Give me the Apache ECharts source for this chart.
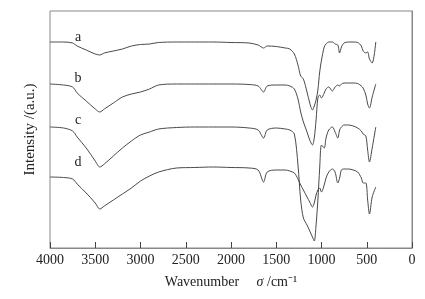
<!DOCTYPE html>
<html>
<head>
<meta charset="utf-8">
<script src="https://cdn.jsdelivr.net/npm/echarts@6/dist/echarts.min.js"></script>
<style>
  html, body { margin: 0; padding: 0; background: #fff; }
  #main { width: 425px; height: 299px; }
</style>
</head>
<body>
<div id="main"></div>
<script>
// wavenumbers (cm-1) shared by all four spectra
var wavenumbers = [4000,3850,3750,3700,3600,3500,3450,3400,3300,3200,
  3100,3000,2900,2800,2600,2400,2200,2000,1800,1700,
  1640,1600,1500,1400,1350,1300,1260,1230,1200,1160,
  1130,1100,1080,1060,1040,1020,1000,970,950,920,
  880,850,820,800,780,750,700,650,600,560,
  540,510,490,470,440,400];

// intensities (a.u., curves stacked with offsets as in the figure)
var curveA = [206,206,205,202,198,194,193,195,197,199,
  202,203.5,204,205.5,206,206,206,205.5,205,203,
  200,202,201.5,200,199,194,183,172,169,156,
  145,138,142,148,158,176,188,201,204,206,
  206,204,203,195,201,205,206,206,205.5,202,
  197,195,196,189,185,206];
var curveB = [164,163,161,155,147,139,136,139,145,151,
  154,156,159,163,164,164,164,164,163.5,162,
  156,162,163,163,162,159,149,136,126,116,
  108,103,110,128,150,153,150,155,159,161,
  157,161,163,162,164,165,165,165,164.5,162,
  160,153,144,140,151,164];
var curveC = [121,120,117,111,100,87,81,84,92,100,
  107,113,116,119,120.5,121,121,121,120,118,
  110,118,120,119,118,114,83,48,30,23,
  17,11,7,23,48,80,103,100,110,118,
  121,116,110,118,121,123,123,122,120,117,
  114,112,98,86,100,121];
var curveD = [71,70.5,69,64,55,45,39,42,48,54,
  60,67,72,76,80,80.5,81,80.5,80,78,
  66,76,78,78,77,75,69,63,58,51,
  46,41,45,53,58,60,56,63,70,76,
  79,76,65,70,78,79,79,78,76,70,
  65,65,48,34,51,61];

var curveNames = ['a', 'b', 'c', 'd'];
var labelPos = [[3690, 211], [3690, 170], [3690, 128], [3690, 86]];
var curves = [curveA, curveB, curveC, curveD];

var myChart = echarts.init(document.getElementById('main'));
var font = '"Liberation Serif", "Times New Roman", serif';

var series = curves.map(function (vals, k) {
  return {
    name: curveNames[k],
    type: 'line',
    data: wavenumbers.map(function (w, i) { return [w, vals[i]]; }),
    showSymbol: false,
    smooth: 0.3,
    lineStyle: { color: '#4a4a4a', width: 1 },
    animation: false,
    markPoint: {
      symbol: 'circle',
      symbolSize: 0,
      silent: true,
      label: {
        show: true,
        position: 'inside',
        formatter: curveNames[k],
        color: '#222',
        fontFamily: font,
        fontSize: 14
      },
      data: [{ coord: labelPos[k] }]
    }
  };
});

var option = {
  backgroundColor: '#fff',
  animation: false,
  grid: {
    left: 50, right: 13, top: 11, bottom: 51,
    show: true, borderColor: '#888', borderWidth: 1
  },
  xAxis: {
    type: 'value',
    min: 0, max: 4000, interval: 500,
    inverse: true,
    name: 'Wavenumber     {i|σ} /cm⁻¹',
    nameLocation: 'middle',
    nameGap: 27,
    nameTextStyle: {
      fontFamily: font, fontSize: 14, color: '#222',
      rich: { i: { fontFamily: font, fontSize: 14, fontStyle: 'italic', color: '#222' } }
    },
    axisLine: { lineStyle: { color: '#888' } },
    axisTick: { inside: true, length: 6, lineStyle: { color: '#444' } },
    axisLabel: {
      fontFamily: font, fontSize: 14, color: '#222', margin: 5,
      formatter: function (v) { return String(v); }
    },
    splitLine: { show: false }
  },
  yAxis: {
    type: 'value',
    min: 0, max: 237,
    name: 'Intensity /(a.u.)',
    nameLocation: 'middle',
    nameGap: 12,
    nameTextStyle: { fontFamily: font, fontSize: 15, color: '#222' },
    axisLine: { show: true, lineStyle: { color: '#888' } },
    axisTick: { show: false },
    axisLabel: { show: false },
    splitLine: { show: false }
  },
  series: series
};
myChart.setOption(option);
</script>
</body>
</html>
